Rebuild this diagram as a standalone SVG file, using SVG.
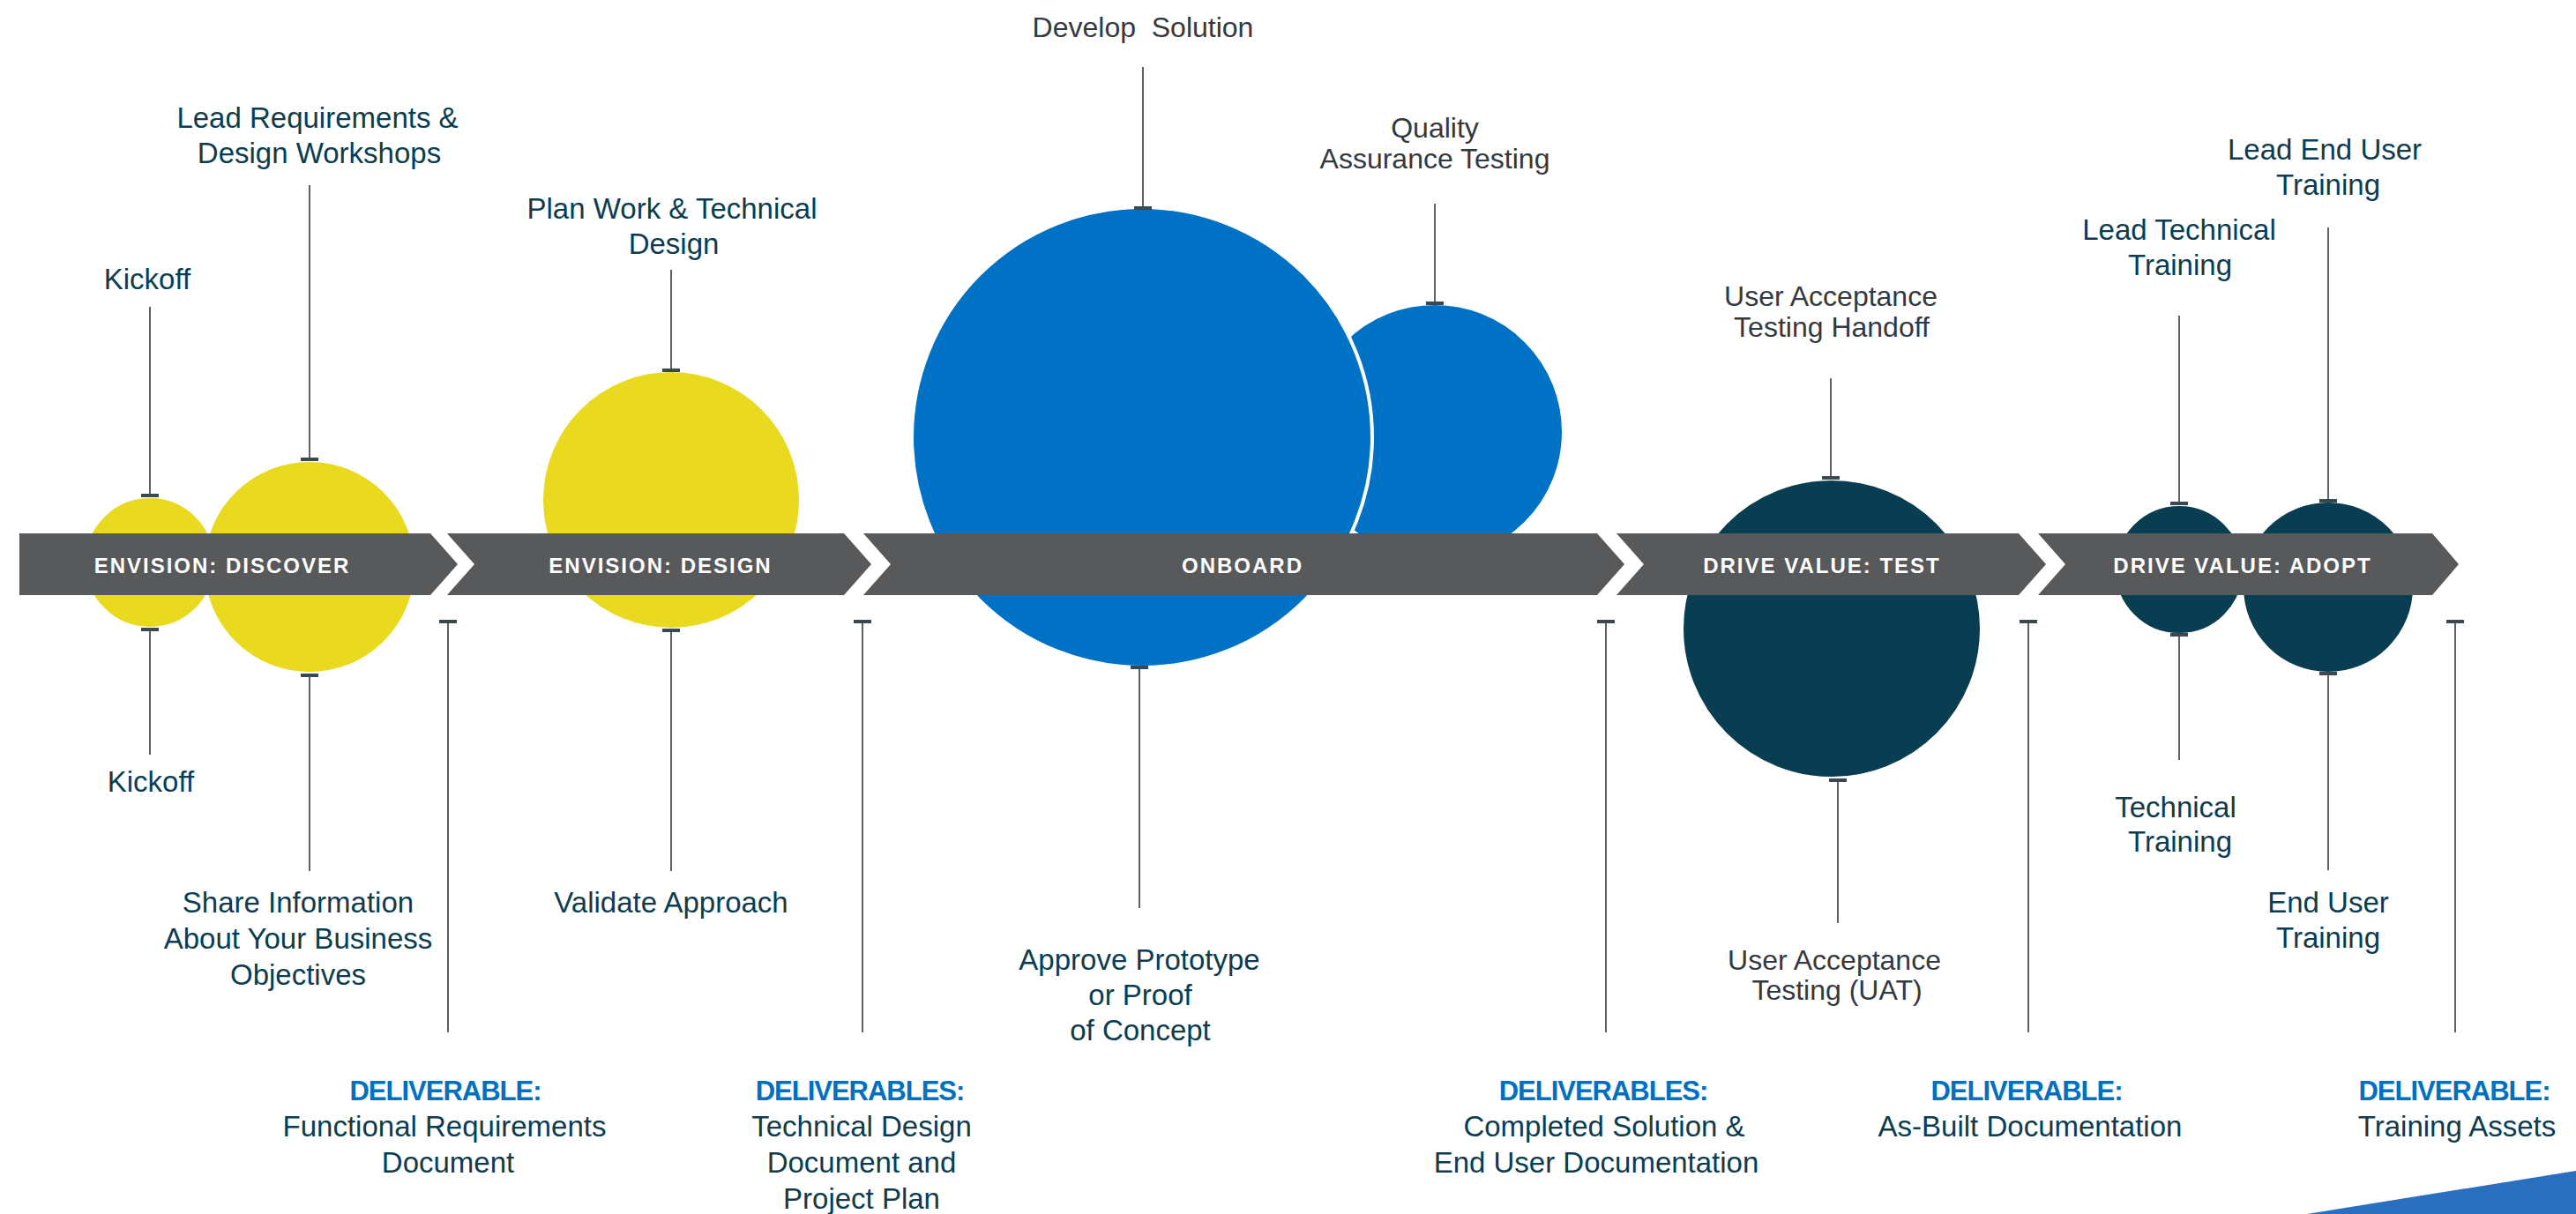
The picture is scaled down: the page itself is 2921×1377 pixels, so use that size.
<svg xmlns="http://www.w3.org/2000/svg" width="2921" height="1377" viewBox="0 0 2921 1377">
<style>
.band{fill:#58595b}
.bt{font-family:"Liberation Sans",Arial,sans-serif;font-weight:bold;font-size:24px;letter-spacing:2px;fill:#ffffff;text-anchor:middle}
.y{fill:#e9d91f;stroke:#ffffff;stroke-width:4}
.b{fill:#0072c6;stroke:#ffffff;stroke-width:4}
.d{fill:#093d51;stroke:#ffffff;stroke-width:4}
.lbl{font-family:"Liberation Sans",Arial,sans-serif;font-size:33px;fill:#0c3c50;text-anchor:middle}
.gl{font-family:"Liberation Sans",Arial,sans-serif;font-size:32px;fill:#33393f;text-anchor:middle}
.dh{font-family:"Liberation Sans",Arial,sans-serif;font-weight:bold;font-size:31px;letter-spacing:-1px;fill:#0070c0;text-anchor:middle}
.ln{stroke:#5c6168;stroke-width:2;fill:none}
.tk{fill:#3b4850}
</style>
<rect width="2921" height="1377" fill="#ffffff"/>

<g id="circles">
<g id="node-kickoff"><circle class="y" cx="170" cy="638" r="75"/></g>
<g id="node-lead-req"><circle class="y" cx="351" cy="643" r="121"/></g>
<g id="node-plan"><circle class="y" cx="761" cy="567" r="147"/></g>
<g id="node-qa"><circle class="b" cx="1627" cy="490" r="146"/></g>
<g id="node-develop"><circle class="b" cx="1295" cy="496" r="261"/></g>
<g id="node-uat"><circle class="d" cx="2077" cy="713" r="170"/></g>
<g id="node-tech"><circle class="d" cx="2471" cy="646" r="74"/></g>
<g id="node-enduser"><circle class="d" cx="2640" cy="666" r="98"/></g>
</g>

<g id="band">
<g id="phase-discover">
<path class="band" d="M22,605 L488,605 L519,640 L488,675 L22,675 Z"/>
<text class="bt" x="252" y="650">ENVISION: DISCOVER</text>
</g>
<g id="phase-design">
<path class="band" d="M507,605 L957,605 L988,640 L957,675 L507,675 L538,640 Z"/>
<text class="bt" x="749" y="650">ENVISION: DESIGN</text>
</g>
<g id="phase-onboard">
<path class="band" d="M979,605 L1811,605 L1842,640 L1811,675 L979,675 L1010,640 Z"/>
<text class="bt" x="1409" y="650">ONBOARD</text>
</g>
<g id="phase-test">
<path class="band" d="M1833,605 L2289,605 L2320,640 L2289,675 L1833,675 L1864,640 Z"/>
<text class="bt" x="2066" y="650">DRIVE VALUE: TEST</text>
</g>
<g id="phase-adopt">
<path class="band" d="M2311,605 L2758,605 L2788,640 L2758,675 L2311,675 L2342,640 Z"/>
<text class="bt" x="2543" y="650">DRIVE VALUE: ADOPT</text>
</g>
</g>

<g id="connectors">
<line class="ln" x1="170" y1="348" x2="170" y2="562"/><rect class="tk" x="160" y="560" width="20" height="4"/>
<line class="ln" x1="170" y1="714" x2="170" y2="856"/><rect class="tk" x="160" y="712" width="20" height="4"/>
<line class="ln" x1="351" y1="210" x2="351" y2="521"/><rect class="tk" x="341" y="519" width="20" height="4"/>
<line class="ln" x1="351" y1="766" x2="351" y2="988"/><rect class="tk" x="341" y="764" width="20" height="4"/>
<line class="ln" x1="761" y1="306" x2="761" y2="420"/><rect class="tk" x="751" y="418" width="20" height="4"/>
<line class="ln" x1="761" y1="715" x2="761" y2="988"/><rect class="tk" x="751" y="713" width="20" height="4"/>
<line class="ln" x1="1296" y1="76" x2="1296" y2="236"/><rect class="tk" x="1286" y="234" width="20" height="4"/>
<line class="ln" x1="1292" y1="757" x2="1292" y2="1030"/><rect class="tk" x="1282" y="755" width="20" height="4"/>
<line class="ln" x1="1627" y1="231" x2="1627" y2="344"/><rect class="tk" x="1617" y="342" width="20" height="4"/>
<line class="ln" x1="2076" y1="429" x2="2076" y2="542"/><rect class="tk" x="2066" y="540" width="20" height="4"/>
<line class="ln" x1="2084" y1="885" x2="2084" y2="1047"/><rect class="tk" x="2074" y="883" width="20" height="4"/>
<line class="ln" x1="2471" y1="358" x2="2471" y2="571"/><rect class="tk" x="2461" y="569" width="20" height="4"/>
<line class="ln" x1="2471" y1="720" x2="2471" y2="862"/><rect class="tk" x="2461" y="718" width="20" height="4"/>
<line class="ln" x1="2640" y1="258" x2="2640" y2="568"/><rect class="tk" x="2630" y="566" width="20" height="4"/>
<line class="ln" x1="2640" y1="764" x2="2640" y2="987"/><rect class="tk" x="2630" y="762" width="20" height="4"/>
<line class="ln" x1="508" y1="705" x2="508" y2="1171"/><rect class="tk" x="498" y="703" width="20" height="4"/>
<line class="ln" x1="978" y1="705" x2="978" y2="1171"/><rect class="tk" x="968" y="703" width="20" height="4"/>
<line class="ln" x1="1821" y1="705" x2="1821" y2="1171"/><rect class="tk" x="1811" y="703" width="20" height="4"/>
<line class="ln" x1="2300" y1="705" x2="2300" y2="1171"/><rect class="tk" x="2290" y="703" width="20" height="4"/>
<line class="ln" x1="2784" y1="705" x2="2784" y2="1171"/><rect class="tk" x="2774" y="703" width="20" height="4"/>
</g>

<g id="labels">
<text class="lbl" x="167" y="328">Kickoff</text>
<text class="lbl" x="171" y="898">Kickoff</text>
<text class="lbl" x="360" y="145">Lead Requirements &amp;</text>
<text class="lbl" x="362" y="185">Design Workshops</text>
<text class="lbl" x="338" y="1035">Share Information</text>
<text class="lbl" x="338" y="1076">About Your Business</text>
<text class="lbl" x="338" y="1117">Objectives</text>
<text class="lbl" x="762" y="248">Plan Work &amp; Technical</text>
<text class="lbl" x="764" y="288">Design</text>
<text class="lbl" x="761" y="1035">Validate Approach</text>
<text class="gl" x="1296" y="42" xml:space="preserve">Develop  Solution</text>
<text class="lbl" x="1292" y="1100">Approve Prototype</text>
<text class="lbl" x="1293" y="1140">or Proof</text>
<text class="lbl" x="1293" y="1180">of Concept</text>
<text class="gl" x="1627" y="156">Quality</text>
<text class="gl" x="1627" y="191">Assurance Testing</text>
<text class="gl" x="2076" y="347">User Acceptance</text>
<text class="gl" x="2077" y="382">Testing Handoff</text>
<text class="gl" x="2080" y="1100">User Acceptance</text>
<text class="gl" x="2083" y="1134">Testing (UAT)</text>
<text class="lbl" x="2471" y="272">Lead Technical</text>
<text class="lbl" x="2472" y="312">Training</text>
<text class="lbl" x="2467" y="927">Technical</text>
<text class="lbl" x="2472" y="966">Training</text>
<text class="lbl" x="2636" y="181">Lead End User</text>
<text class="lbl" x="2640" y="221">Training</text>
<text class="lbl" x="2640" y="1035">End User</text>
<text class="lbl" x="2640" y="1075">Training</text>
</g>

<g id="deliverables">
<g id="del-1">
<text class="dh" x="505" y="1248">DELIVERABLE:</text>
<text class="lbl" x="504" y="1289">Functional Requirements</text>
<text class="lbl" x="508" y="1330">Document</text>
</g>
<g id="del-2">
<text class="dh" x="975" y="1248">DELIVERABLES:</text>
<text class="lbl" x="977" y="1289">Technical Design</text>
<text class="lbl" x="977" y="1330">Document and</text>
<text class="lbl" x="977" y="1371">Project Plan</text>
</g>
<g id="del-3">
<text class="dh" x="1818" y="1248">DELIVERABLES:</text>
<text class="lbl" x="1819" y="1289">Completed Solution &amp;</text>
<text class="lbl" x="1810" y="1330">End User Documentation</text>
</g>
<g id="del-4">
<text class="dh" x="2298" y="1248">DELIVERABLE:</text>
<text class="lbl" x="2302" y="1289">As-Built Documentation</text>
</g>
<g id="del-5">
<text class="dh" x="2783" y="1248">DELIVERABLE:</text>
<text class="lbl" x="2786" y="1289">Training Assets</text>
</g>
</g>

<polygon points="2616,1377 2921,1328 2921,1377" fill="#2a6ebf"/>
</svg>
